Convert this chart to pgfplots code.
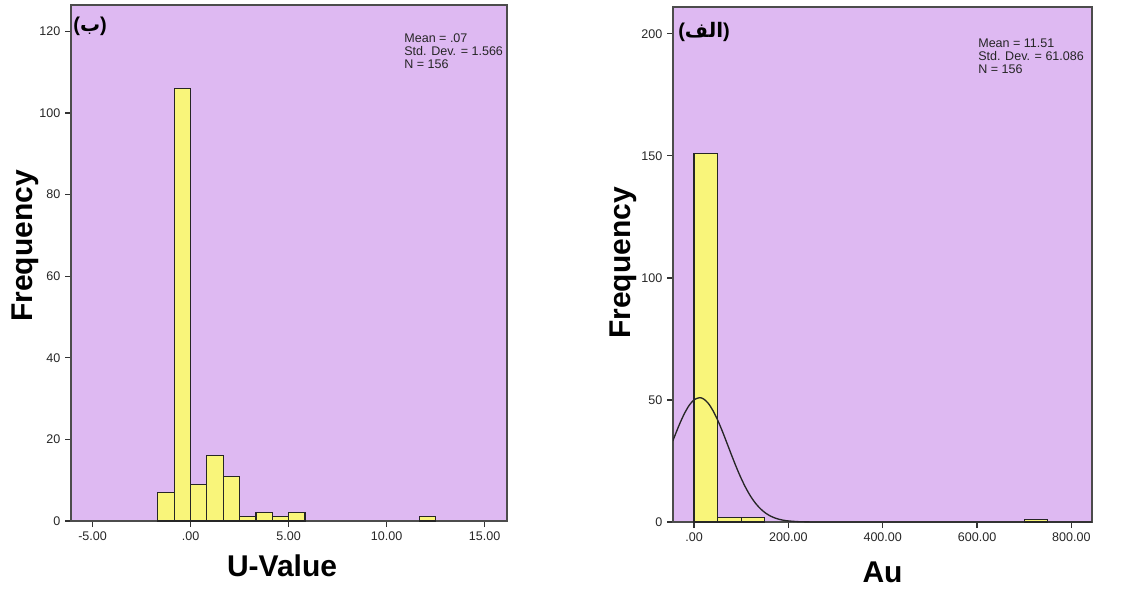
\documentclass[border=0pt]{standalone}
\usepackage{fontspec}
\setmainfont{Liberation Sans}
\newfontfamily\arabicfont[Script=Arabic]{DejaVu Sans}
\TeXXeTstate=1
\usepackage{pgfplots}
\pgfplotsset{compat=1.18}

\definecolor{panelbg}{HTML}{DEB9F2}
\definecolor{baryellow}{HTML}{F9F57A}

\pgfplotsset{
  spssaxis/.style={
    scale only axis,
    axis background/.style={fill=panelbg},
    axis line style={draw=black!70, line width=1.1pt},
    tick align=outside,
    tick pos=left,
    major tick length=4.5pt,
    every tick/.style={black!80, line width=0.9pt},
    tick label style={font=\fontsize{9.4}{11}\selectfont, text=black!85},
    /pgf/number format/assume math mode=true,
    ymin=0,
    label style={font=\fontsize{22.5}{24}\selectfont\bfseries},
  },
  histbar/.style={ybar interval, fill=baryellow, draw=black!85, line width=0.85pt},
}

\begin{document}
\begin{tikzpicture}
\path[use as bounding box] (0,0) rectangle (852.75pt,-441.75pt);

% U-Value histogram
\begin{axis}[spssaxis,
  at={(53.25pt,-390.75pt)}, anchor=south west,
  width=327pt, height=387pt,
  xmin=-6.1, xmax=16.14, ymax=126.5,
  xtick={-5,0,5,10,15},
  xticklabels={-5.00,.00,5.00,10.00,15.00},
  ytick={0,20,40,60,80,100,120},
  xlabel={U-Value}, ylabel={Frequency},
  x label style={at={(axis description cs:0.484,-0.1085)}, anchor=base},
  y label style={at={(axis description cs:-0.0872,0.533)}, anchor=base, rotate=0},
]
\addplot[histbar] coordinates {
  (-1.6667,7) (-0.8333,106) (0,9) (0.8333,16) (1.6667,11)
  (2.5,1) (3.3333,2) (4.1667,1) (5,2) (5.8333,0)
};
\addplot[histbar] coordinates {(11.6667,1) (12.5,0)};
\node[anchor=west, inner sep=0] at (rel axis cs:0.005,0.959)
  {\fontsize{15}{16}\selectfont\bfseries ({\arabicfont\bfseries\beginR ب\endR})};
\node[anchor=north west, inner sep=0, align=left,
      font=\fontsize{9.4}{9.75}\selectfont, text=black!85] at (rel axis cs:0.764,0.944)
  {Mean = .07\\Std. Dev. = 1.566\\N = 156};
\end{axis}

% Au histogram with normal curve
\begin{axis}[spssaxis,
  at={(504.75pt,-391.5pt)}, anchor=south west,
  width=314.25pt, height=386.25pt,
  xmin=-44.6, xmax=843.7, ymax=211,
  xtick={0,200,400,600,800},
  xticklabels={.00,200.00,400.00,600.00,800.00},
  ytick={0,50,100,150,200},
  xlabel={Au}, ylabel={Frequency},
  x label style={at={(axis description cs:0.5,-0.1165)}, anchor=base},
  y label style={at={(axis description cs:-0.1026,0.503)}, anchor=base, rotate=0},
]
\addplot[histbar] coordinates {(0,151) (50,2) (100,2) (150,0)};
\addplot[histbar] coordinates {(700,1) (750,0)};
\addplot[smooth, black!85, line width=1pt] coordinates {
  (-45,33.21) (-40,35.70) (-30,40.44) (-20,44.59) (-10,47.88) (0,50.04)
  (11.51,50.94) (20,50.45) (30,48.66) (40,45.69) (50,41.77) (60,37.18)
  (70,32.21) (80,27.17) (90,22.31) (100,17.84) (110,13.89) (120,10.52)
  (130,7.76) (140,5.58) (150,3.90) (160,2.65) (170,1.76) (180,1.13)
  (190,0.71) (200,0.44) (220,0.15) (240,0.05) (260,0.013) (300,0)
  (400,0) (600,0) (843.7,0)
};
\node[anchor=west, inner sep=0] at (rel axis cs:0.012,0.951)
  {\fontsize{15}{16}\selectfont\bfseries ({\arabicfont\bfseries\beginR الف\endR})};
\node[anchor=north west, inner sep=0, align=left,
      font=\fontsize{9.4}{9.75}\selectfont, text=black!85] at (rel axis cs:0.728,0.938)
  {Mean = 11.51\\Std. Dev. = 61.086\\N = 156};
\end{axis}
\end{tikzpicture}
\end{document}
